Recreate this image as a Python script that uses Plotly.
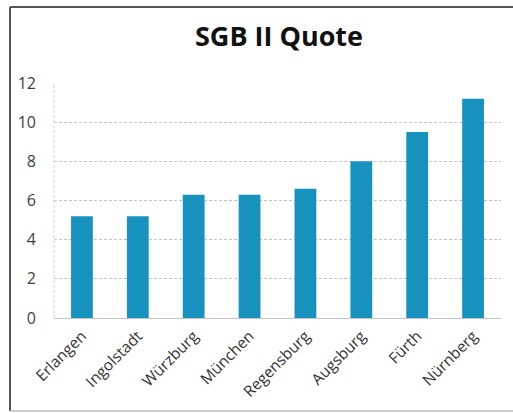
import plotly.graph_objects as go

cities = ["Erlangen", "Ingolstadt", "Würzburg", "München", "Regensburg", "Augsburg", "Fürth", "Nürnberg"]
quote = [5.2, 5.2, 6.3, 6.3, 6.6, 8.0, 9.5, 11.2]
y_ticks = [0, 2, 4, 6, 8, 10, 12]

W, H = 513, 413
ml, mr, mt, mb = 54, 12, 83, 95
pw, ph = W - ml - mr, H - mt - mb

def px_x(x):
    return (x - ml) / pw

def px_y(y):
    return (H - mb - y) / ph

fig = go.Figure(go.Bar(x=cities, y=quote, marker=dict(color="#1792bf", line=dict(width=0)), width=0.39))

frame = "#555555"
fig.update_layout(
    width=W, height=H,
    margin=dict(l=ml, r=mr, t=mt, b=mb, autoexpand=False),
    paper_bgcolor="white", plot_bgcolor="white",
    showlegend=False,
    title=dict(text="<b>SGB II Quote</b>", xref="container", x=279 / W, xanchor="center",
               yref="container", y=1 - 37 / H, yanchor="middle",
               font=dict(family="Open Sans", size=27, color="#111111")),
    font=dict(family="Open Sans", color="#404040"),
    xaxis=dict(tickangle=-45, tickfont=dict(size=15.5, color="#333333"), showgrid=False,
               showline=False, ticks="", range=[-0.5, 7.5], automargin=False, ticklabelstandoff=5),
    yaxis=dict(range=[0, 12], tickvals=y_ticks, tickfont=dict(size=16, color="#404040"),
               showgrid=True, gridcolor="#c4c4c4", griddash="3px,2px", gridwidth=1,
               zeroline=True, zerolinecolor="#c4c4c4", zerolinewidth=1,
               showline=False, ticklabelstandoff=17, automargin=False),
    shapes=[
        dict(type="line", xref="paper", yref="paper", x0=0, x1=0, y0=0, y1=1,
             line=dict(color="#d0d0d0", width=1, dash="3px,2px")),
        dict(type="line", xref="paper", yref="paper", x0=px_x(10), x1=px_x(513), y0=px_y(7), y1=px_y(7),
             line=dict(color=frame, width=2)),
        dict(type="line", xref="paper", yref="paper", x0=px_x(10), x1=px_x(10), y0=px_y(7), y1=px_y(411),
             line=dict(color=frame, width=2)),
        dict(type="line", xref="paper", yref="paper", x0=px_x(10), x1=px_x(513), y0=px_y(411), y1=px_y(411),
             line=dict(color="#bbbbbb", width=1.5)),
    ],
)

fig.write_html("out.html", config={"displayModeBar": False})

# remove default page margin so the figure sits at the window origin
with open("out.html", encoding="utf-8") as f:
    html = f.read()
html = html.replace("<body>", '<body style="margin:0;padding:0;">', 1)
with open("out.html", "w", encoding="utf-8") as f:
    f.write(html)
